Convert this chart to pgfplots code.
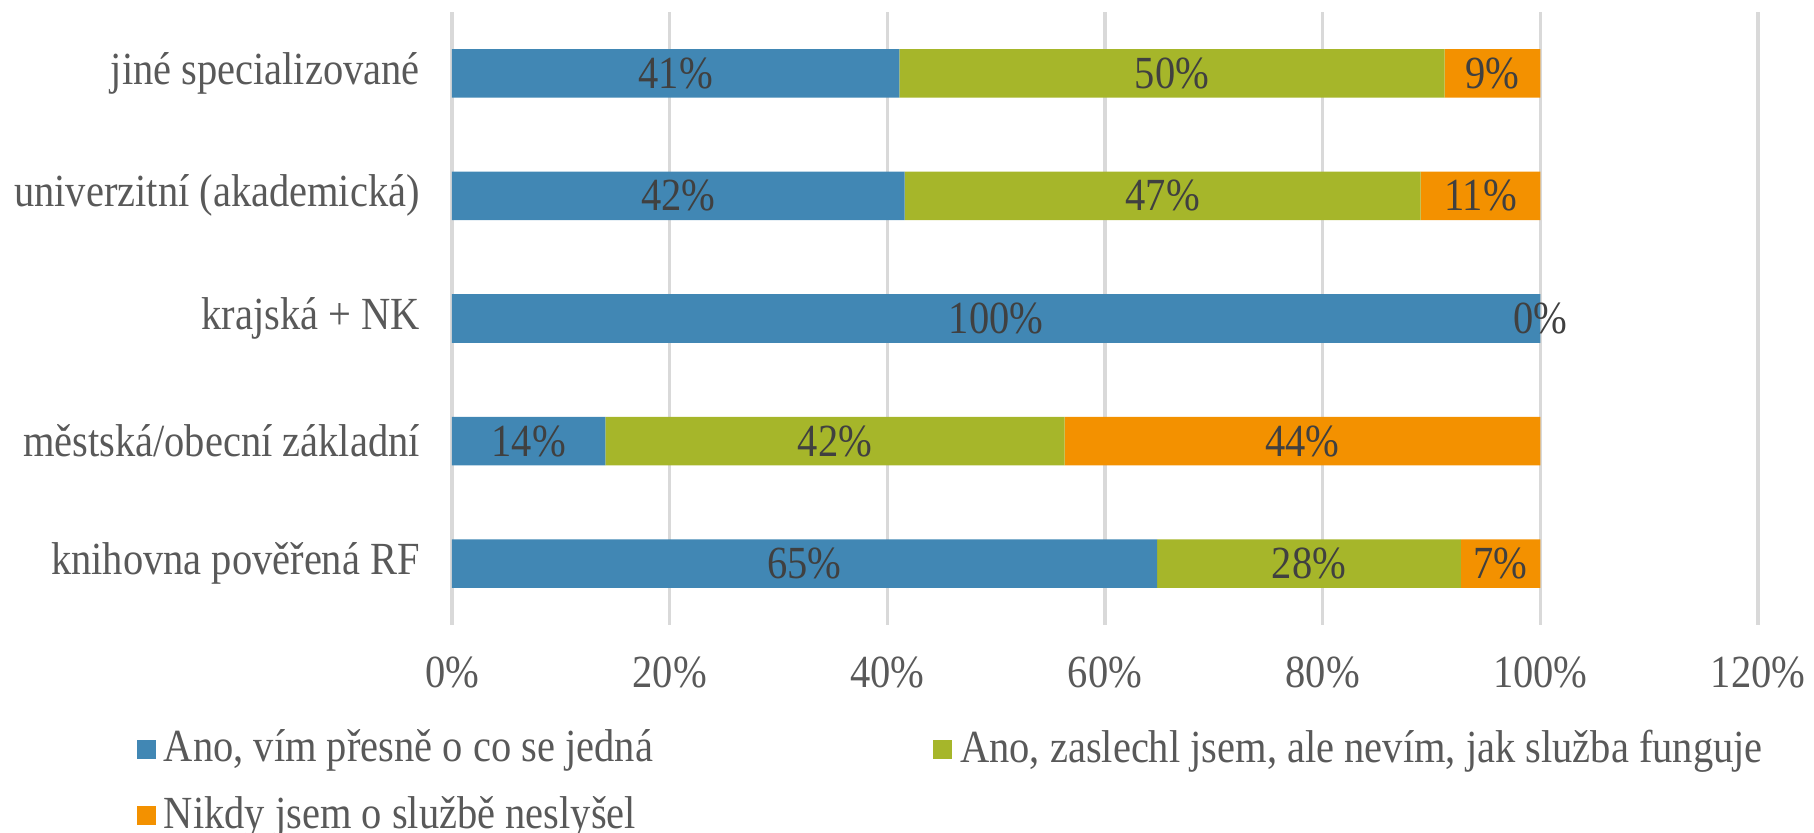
\documentclass[border=0pt]{standalone}
\usepackage{pgfplots}
\pgfplotsset{compat=1.18}
\usepackage{fontspec}
\setmainfont{Liberation Serif}[FakeStretch=0.88]
\definecolor{cblue}{RGB}{65,135,180}
\definecolor{cgreen}{RGB}{166,182,42}
\definecolor{corange}{RGB}{243,145,0}
\definecolor{txt}{RGB}{89,89,89}
\definecolor{lbl}{RGB}{64,64,64}
\definecolor{gridc}{RGB}{217,217,217}

\begin{document}
\begin{tikzpicture}
\fontsize{11.5}{13}\selectfont
\path[use as bounding box] (-113pt,-52pt) rectangle (340.5pt,156.25pt);
\begin{axis}[
  at={(0,0)}, anchor=south west, scale only axis,
  width=326.5pt, height=153.25pt,
  xbar stacked, bar width=12.15pt,
  xmin=0, xmax=120, ymin=-0.5, ymax=4.5,
  xtick={0,20,...,120}, ytick={0,1,2,3,4},
  yticklabels={knihovna pověřená RF, městská/obecní základní, krajská + NK, univerzitní (akademická), jiné specializované},
  xticklabel={\pgfmathprintnumber{\tick}\%},
  /pgf/number format/assume math mode=true,
  xmajorgrids, grid style={gridc, line width=0.9pt},
  axis line style={draw=none}, major tick style={draw=none},
  ticklabel style={font=\fontsize{11.5}{13}\selectfont, text=txt},
  xticklabel style={yshift=-4pt},
  yticklabel style={xshift=-4pt},
  clip=false,
  point meta=rawx,
  nodes near coords={\pgfmathprintnumber[fixed,precision=0]{\pgfplotspointmeta}\%},
  every node near coord/.append style={font=\fontsize{11.5}{13}\selectfont, text=lbl, anchor=center},
  legend columns=2,
  legend cell align=left,
  legend style={draw=none, fill=none, at={(0,0)}, anchor=north west, xshift=-82pt, yshift=-22pt,
    font=\fontsize{11.5}{13}\selectfont, text=txt, row sep=2.8pt,
    /tikz/column 2/.style={column sep=68pt}},
  legend image code/.code={\fill[#1] (0pt,-2.4pt) rectangle (4.8pt,2.4pt);},
]
\addplot[fill=cblue, draw=none] coordinates {(64.8,0) (14.1,1) (100,2) (41.6,3) (41.1,4)};
\addplot[fill=cgreen, draw=none] coordinates {(27.9,0) (42.2,1) (0,2) (47.4,3) (50.1,4)};
\addplot[fill=corange, draw=none] coordinates {(7.3,0) (43.7,1) (0,2) (11.0,3) (8.8,4)};
\legend{{Ano, vím přesně o co se jedná}, {Ano, zaslechl jsem, ale nevím, jak služba funguje}, {Nikdy jsem o službě neslyšel}}
\coordinate (zero) at (axis cs:100,2);
\end{axis}
% zero-length segment label (krajska + NK), not drawn by nodes near coords
\node[font=\fontsize{11.5}{13}\selectfont, text=lbl, anchor=center] at (zero) {0\%};
\end{tikzpicture}
\end{document}
